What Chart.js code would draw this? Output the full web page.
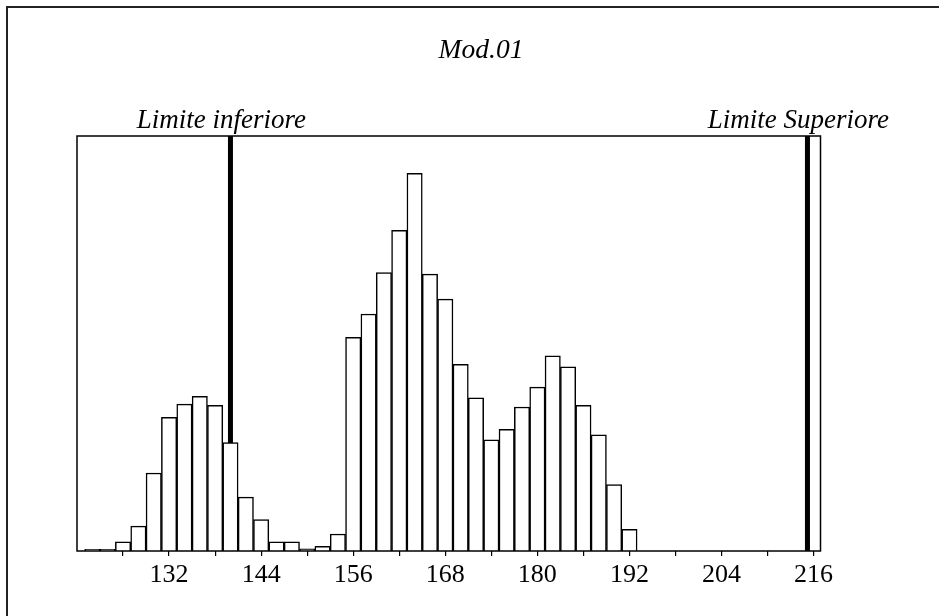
<!DOCTYPE html>
<html>
<head>
<meta charset="utf-8">
<script src="https://cdn.jsdelivr.net/npm/chart.js@4/dist/chart.umd.min.js"></script>
<style>
html,body{margin:0;padding:0;background:#fff;}
canvas{display:block;}
</style>
</head>
<body>
<canvas id="c" width="939" height="616"></canvas>
<script>
// ---- data ----
const titleText = "Mod.01";
const binCenters = [122,124,126,128,130,132,134,136,138,140,142,144,146,148,150,152,154,156,158,160,162,164,166,168,170,172,174,176,178,180,182,184,186,188,190,192];
const binCounts  = [0.4,0.4,2.2,6.0,18.8,32.2,35.4,37.3,35.1,26.1,13.0,7.6,2.2,2.2,0.5,1.1,4.1,51.5,57.1,67.1,77.3,91.0,66.7,60.7,45.0,36.9,26.8,29.3,34.7,39.5,47.0,44.4,35.1,28.0,16.0,5.2];
const majorTicks = [132,144,156,168,180,192,204,216];
const minorTicks = [126,138,150,162,174,186,198,210];
const limitValues = [140,215.2];
const limitLabels = ["Limite inferiore","Limite Superiore"];
const xMin = 120, xMax = 216.9, yMax = 100;

const SERIF = '"Liberation Serif","Times New Roman",serif';

const decor = {
  id: 'decor',
  beforeDatasetsDraw(chart) {
    const {ctx, chartArea: a, scales: {x}} = chart;
    ctx.save();
    ctx.strokeStyle = '#000';
    ctx.lineWidth = 5;
    limitValues.forEach(v => {
      const px = x.getPixelForValue(v);
      ctx.beginPath();
      ctx.moveTo(px, a.top);
      ctx.lineTo(px, a.bottom);
      ctx.stroke();
    });
    ctx.restore();
  },
  afterDatasetsDraw(chart) {
    const {ctx, chartArea: a} = chart;
    ctx.save();
    ctx.strokeStyle = '#000';
    ctx.lineWidth = 1.5;
    ctx.strokeRect(a.left, a.top, a.right - a.left, a.bottom - a.top);
    ctx.restore();
  },
  afterDraw(chart) {
    const {ctx, scales: {x}} = chart;
    ctx.save();
    // outer frame (left and top visible)
    ctx.strokeStyle = '#222';
    ctx.lineWidth = 2;
    ctx.beginPath();
    ctx.moveTo(7, 620);
    ctx.lineTo(7, 7);
    ctx.lineTo(945, 7);
    ctx.stroke();
    // title
    ctx.fillStyle = '#000';
    ctx.textAlign = 'center';
    ctx.textBaseline = 'alphabetic';
    ctx.font = 'italic 27.5px ' + SERIF;
    ctx.fillText(titleText, 481, 58);
    // limit labels
    ctx.font = 'italic 27px ' + SERIF;
    limitValues.forEach((v, i) => {
      const px = x.getPixelForValue(v);
      ctx.fillText(limitLabels[i], px - 9, 128);
    });
    ctx.restore();
  }
};

new Chart(document.getElementById('c'), {
  type: 'bar',
  data: {
    datasets: [{
      data: binCenters.map((c, i) => ({x: c, y: binCounts[i]})),
      backgroundColor: '#ffffff',
      borderColor: '#000000',
      borderWidth: 1.5,
      barPercentage: 1,
      categoryPercentage: 1
    }]
  },
  options: {
    responsive: false,
    animation: false,
    layout: {padding: {left: 77, right: 118.5, top: 136, bottom: 0}},
    plugins: {legend: {display: false}, tooltip: {enabled: false}, title: {display: false}},
    scales: {
      x: {
        type: 'linear',
        offset: false,
        min: xMin,
        max: xMax,
        afterBuildTicks: s => { s.ticks = majorTicks.concat(minorTicks).sort((a,b)=>a-b).map(v => ({value: v})); },
        afterFit: s => { s.height = 65; },
        border: {display: false},
        grid: {drawOnChartArea: false, drawTicks: true, tickLength: 5, color: '#000', lineWidth: 1.2, offset: false},
        ticks: {
          autoSkip: false,
          maxRotation: 0,
          padding: 4,
          color: '#000',
          font: {family: SERIF, size: 26},
          callback: v => majorTicks.includes(v) ? String(v) : ''
        }
      },
      y: {min: 0, max: yMax, display: false}
    }
  },
  plugins: [decor]
});
</script>
</body>
</html>
